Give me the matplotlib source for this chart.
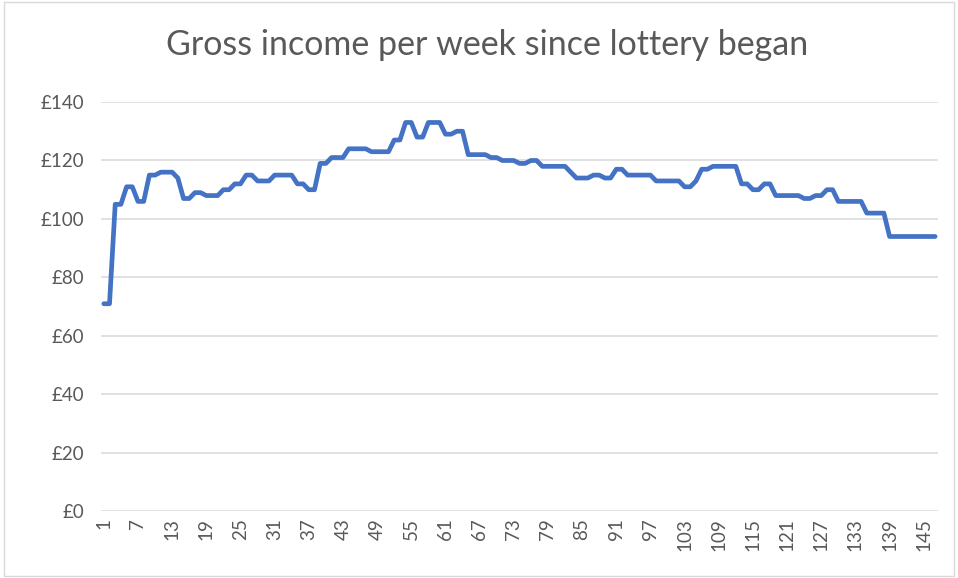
import matplotlib
matplotlib.use("Agg")
import matplotlib.pyplot as plt
from matplotlib.patches import Rectangle

# Weekly gross income (GBP), weeks 1..147
income = [
    71, 71, 105, 105, 111, 111, 106, 106, 115, 115,
    116, 116, 116, 114, 107, 107, 109, 109, 108, 108,
    108, 110, 110, 112, 112, 115, 115, 113, 113, 113,
    115, 115, 115, 115, 112, 112, 110, 110, 119, 119,
    121, 121, 121, 124, 124, 124, 124, 123, 123, 123,
    123, 127, 127, 133, 133, 128, 128, 133, 133, 133,
    129, 129, 130, 130, 122, 122, 122, 122, 121, 121,
    120, 120, 120, 119, 119, 120, 120, 118, 118, 118,
    118, 118, 116, 114, 114, 114, 115, 115, 114, 114,
    117, 117, 115, 115, 115, 115, 115, 113, 113, 113,
    113, 113, 111, 111, 113, 117, 117, 118, 118, 118,
    118, 118, 112, 112, 110, 110, 112, 112, 108, 108,
    108, 108, 108, 107, 107, 108, 108, 110, 110, 106,
    106, 106, 106, 106, 102, 102, 102, 102, 94, 94,
    94, 94, 94, 94, 94, 94, 94,
]
weeks = list(range(1, len(income) + 1))
x_ticks = list(range(1, len(income) + 1, 6))
y_ticks = [0, 20, 40, 60, 80, 100, 120, 140]

plt.rcParams['font.family'] = ['Lato', 'DejaVu Sans']
grey = '#595959'

fig = plt.figure(figsize=(9.58, 5.78), dpi=100)
ax = fig.add_axes([0.1054, 0.1154, 0.8737, 0.7081])

ax.plot(weeks, income, color='#4472C4', linewidth=3.4,
        solid_joinstyle='round', solid_capstyle='round', zorder=3)

ax.set_xlim(0.5, len(income) + 0.5)
ax.set_ylim(0, 140)
ax.set_yticks(y_ticks)
ax.set_yticklabels(['£{}'.format(v) for v in y_ticks])
ax.set_xticks(x_ticks)
ax.set_xticklabels([str(v) for v in x_ticks], rotation=90)
ax.tick_params(axis='both', length=0, colors=grey, labelsize=13.5)
ax.tick_params(axis='y', pad=12)
ax.tick_params(axis='x', pad=5)
ax.grid(axis='y', color='#D9D9D9', linewidth=1.1)
ax.set_axisbelow(True)
for s in ax.spines.values():
    s.set_visible(False)

fig.text(0.508, 0.922, 'Gross income per week since lottery began',
         ha='center', va='center', fontsize=24.5, color=grey)

# chart border
fig.patches.append(Rectangle((0.004, 0.003), 0.992, 0.994, transform=fig.transFigure,
                             fill=False, edgecolor='#D9D9D9', linewidth=1))

fig.savefig('out.png', dpi=100)
